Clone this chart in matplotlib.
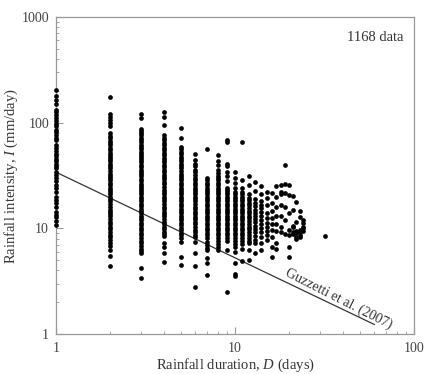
import numpy as np
import matplotlib.pyplot as plt

serif = 'Liberation Serif'
plt.rcParams['font.family'] = 'serif'
plt.rcParams['font.serif'] = [serif, 'DejaVu Serif']
plt.rcParams['mathtext.fontset'] = 'custom'
plt.rcParams['mathtext.rm'] = serif
plt.rcParams['mathtext.it'] = serif + ':italic'

# rainfall intensity (mm/day) read per event duration (days)
intensity = {
    1: [204, 180, 164, 150, 132, 125, 118, 110, 104, 98, 92, 86, 82, 76, 72, 68,
        61, 57, 54, 51, 48, 45, 43, 41, 39, 37, 34, 32, 30, 28, 25.8, 24, 22, 20,
        18.6, 17.2, 16, 14.4, 13.5, 12.9, 11.8, 10.8],
    2: [174, 120, 113, 106, 100, 94, 79, 75, 71, 67, 64, 61, 58, 55, 52, 49.5, 47,
        45, 43, 41, 39, 37, 35, 33, 31.5, 30, 28.5, 27, 25.5, 24, 23, 22, 21, 20,
        19, 18, 17, 16, 15, 14.3, 13.6, 13, 12.3, 11.6, 11, 10.4, 9.8, 9.2, 8.7,
        8.2, 7.7, 7.2, 6.8, 6.25, 5.5, 4.4],
    3: [120, 110, 88, 84, 80, 76, 72, 68, 65, 62, 59, 56, 53, 50, 48, 46, 44, 42,
        40, 38, 36, 34, 32.5, 31, 29.5, 28, 26.5, 25, 24, 23, 22, 21, 20, 19, 18,
        17, 16.2, 15.4, 14.6, 13.9, 13.2, 12.5, 11.9, 11.3, 10.7, 10.1, 9.6, 9.1,
        8.6, 8.1, 7.6, 7.2, 6.8, 6.4, 6.1, 5.8, 4.25, 3.4],
    4: [125, 113, 95, 76, 72, 68, 64, 61, 58, 55, 52, 49, 46.5, 44, 42, 40, 38,
        36, 34, 32, 30.5, 29, 27.5, 26, 24.5, 23, 22, 21, 20, 19, 18, 17, 16,
        15.2, 14.4, 13.7, 13, 12.3, 11.6, 11, 10.4, 9.8, 9.3, 8.8, 8.4, 7.2, 6.6,
        5.8, 4.8],
    5: [90, 71, 59, 56, 53, 50, 47.5, 45, 43, 41, 39, 37, 35, 33, 31.5, 30, 28.5,
        27, 25.5, 24, 23, 22, 21, 20, 19, 18, 17, 16.2, 15.4, 14.6, 13.9, 13.2,
        12.5, 11.9, 11.3, 10.7, 10.1, 9.6, 9.1, 8.6, 8.1, 7.5, 5.3, 4.5],
    6: [50, 44, 41, 38.5, 36, 34, 32, 30, 28.5, 27, 25.5, 24, 23, 22, 21, 20, 19,
        18, 17, 16, 15.2, 14.4, 13.6, 12.9, 12.2, 11.5, 10.9, 10.3, 9.7, 9.2,
        8.7, 8.2, 7.5, 5.8, 4.4, 2.8],
    7: [56, 30, 28.5, 27, 25.5, 24, 23, 22, 21, 20, 19, 18, 17, 16.2, 15.4, 14.6,
        13.9, 13.2, 12.5, 11.9, 11.3, 10.7, 10.1, 9.6, 9.1, 8.6, 8.1, 7.5, 7.0,
        6.5, 6.2, 5.2, 4.7, 3.6],
    8: [49.5, 43, 40, 35.7, 33.5, 31.5, 30, 28.5, 27, 25.5, 24, 23, 22, 21, 20,
        19, 18, 17, 16.2, 15.4, 14.6, 13.9, 13.2, 12.5, 11.9, 11.3, 10.7, 10.1,
        9.6, 9.1, 8.6, 8.1, 7.6, 7.1, 6.7, 6.25],
    9: [68, 65, 41, 39, 34, 31, 28, 24, 23, 22, 21, 20, 19, 18, 17, 16.2, 15.4,
        14.6, 13.9, 13.2, 12.5, 11.9, 11.3, 10.7, 10.1, 9.6, 9.1, 8.6, 8.1, 7.6,
        6.3, 2.5],
    10: [34.4, 30, 26.7, 24, 22, 21, 20, 19, 18, 17, 16.2, 15.4, 14.6, 13.9,
         13.2, 12.5, 11.9, 11.3, 10.7, 10.1, 9.6, 9.1, 8.6, 8.1, 7.6, 7.1, 6.6,
         6.0, 4.7, 3.7, 3.5],
    11: [65, 28.8, 24, 22, 21, 20, 19, 18, 17, 16.2, 15.4, 14.6, 13.9, 13.2,
         12.5, 11.9, 11.3, 10.7, 10.1, 9.6, 9.1, 8.6, 8.1, 7.6, 7.1, 6.4, 4.9],
    12: [31.3, 25.9, 21, 19.5, 18.5, 17.5, 16.5, 15.5, 14.7, 13.9, 13.1, 12.4,
         11.7, 11, 10.4, 9.8, 9.2, 8.7, 8.1, 7.6, 7.2, 6.3, 5.0],
    13: [27.7, 22.7, 19, 17.5, 16.3, 15, 14, 13, 12.2, 11.4, 10.6, 9.9, 9.2, 8.5,
         7.8, 7.2, 5.8],
    14: [25, 21, 18.3, 16.8, 15.5, 14.2, 13, 12, 11, 10, 9.2, 8.2, 7.3, 6.3],
    15: [22.3, 19.5, 16.5, 14, 12.5, 11.3, 10.3, 9.4, 8.6, 7.8],
    16: [21.5, 17.5, 14.5, 12.5, 11, 9.6, 8.3, 6.7, 5.3],
    17: [25.3, 20, 16, 13, 11, 9.5, 7.2, 6.4],
    18: [25.5, 22.3, 21, 16.5, 13, 10.4, 9.3],
    19: [40, 26, 21.6, 16, 12, 8.8],
    20: [25.9, 20.5, 14, 9.6, 8.7, 6.6, 5.4],
    21: [20.3, 15, 10.6, 10.2, 9.3, 8.8],
    22: [17.9, 11.5, 9.5, 9.0, 8.3, 7.9],
    23: [14.7, 12.8, 9.6, 9.2, 8.7, 8.3],
    24: [12.1, 11.3, 10.3, 10.0, 9.5],
    32: [8.5],
}

# Guzzetti et al. (2007) threshold end points
line_D = [1, 60]
line_I = [34, 1.23]

D = []
I = []
for d, vals in intensity.items():
    D += [d] * len(vals)
    I += vals

fig = plt.figure(figsize=(4.25, 3.74), dpi=100)
ax = fig.add_axes([0.1318, 0.107, 0.8424, 0.8475])

ax.plot(D, I, 'o', color='black', markersize=3.4, markeredgewidth=0, clip_on=False, zorder=3)
ax.plot(line_D, line_I, color='#333333', linewidth=0.9)

ax.set_xscale('log')
ax.set_yscale('log')
ax.set_xlim(1, 100)
ax.set_ylim(1, 1000)
ax.set_xticks([1, 10, 100])
ax.set_xticklabels(['1', '10', '100'])
ax.set_yticks([1, 10, 100, 1000])
ax.set_yticklabels(['1', '10', '100', '1000'])

for s in ax.spines.values():
    s.set_color('#999999')
    s.set_linewidth(0.9)
ax.tick_params(which='both', direction='in', colors='#999999', labelcolor='#444444',
               labelsize=10, top=False, right=False)
ax.tick_params(axis='x', which='major', length=5, pad=6)
ax.tick_params(axis='y', which='major', length=5, pad=5)
ax.tick_params(which='minor', length=2.5)

ax.set_xlabel('Rainfall duration, $D$ (days)', fontsize=10.5, color='#333333')
ax.set_ylabel('Rainfall intensity, $I$ (mm/day)', fontsize=10.5, color='#333333')
ax.xaxis.set_label_coords(0.5, -0.072)
ax.yaxis.set_label_coords(-0.1, 0.5)

ax.text(0.97, 0.955, '1168 data', transform=ax.transAxes, ha='right', va='top',
        fontsize=10.5, color='#333333')
ax.text(38, 2.15, 'Guzzetti et al. (2007)', rotation=-27, ha='center', va='center',
        fontsize=10, color='#333333')

fig.savefig('out.png', dpi=100)
